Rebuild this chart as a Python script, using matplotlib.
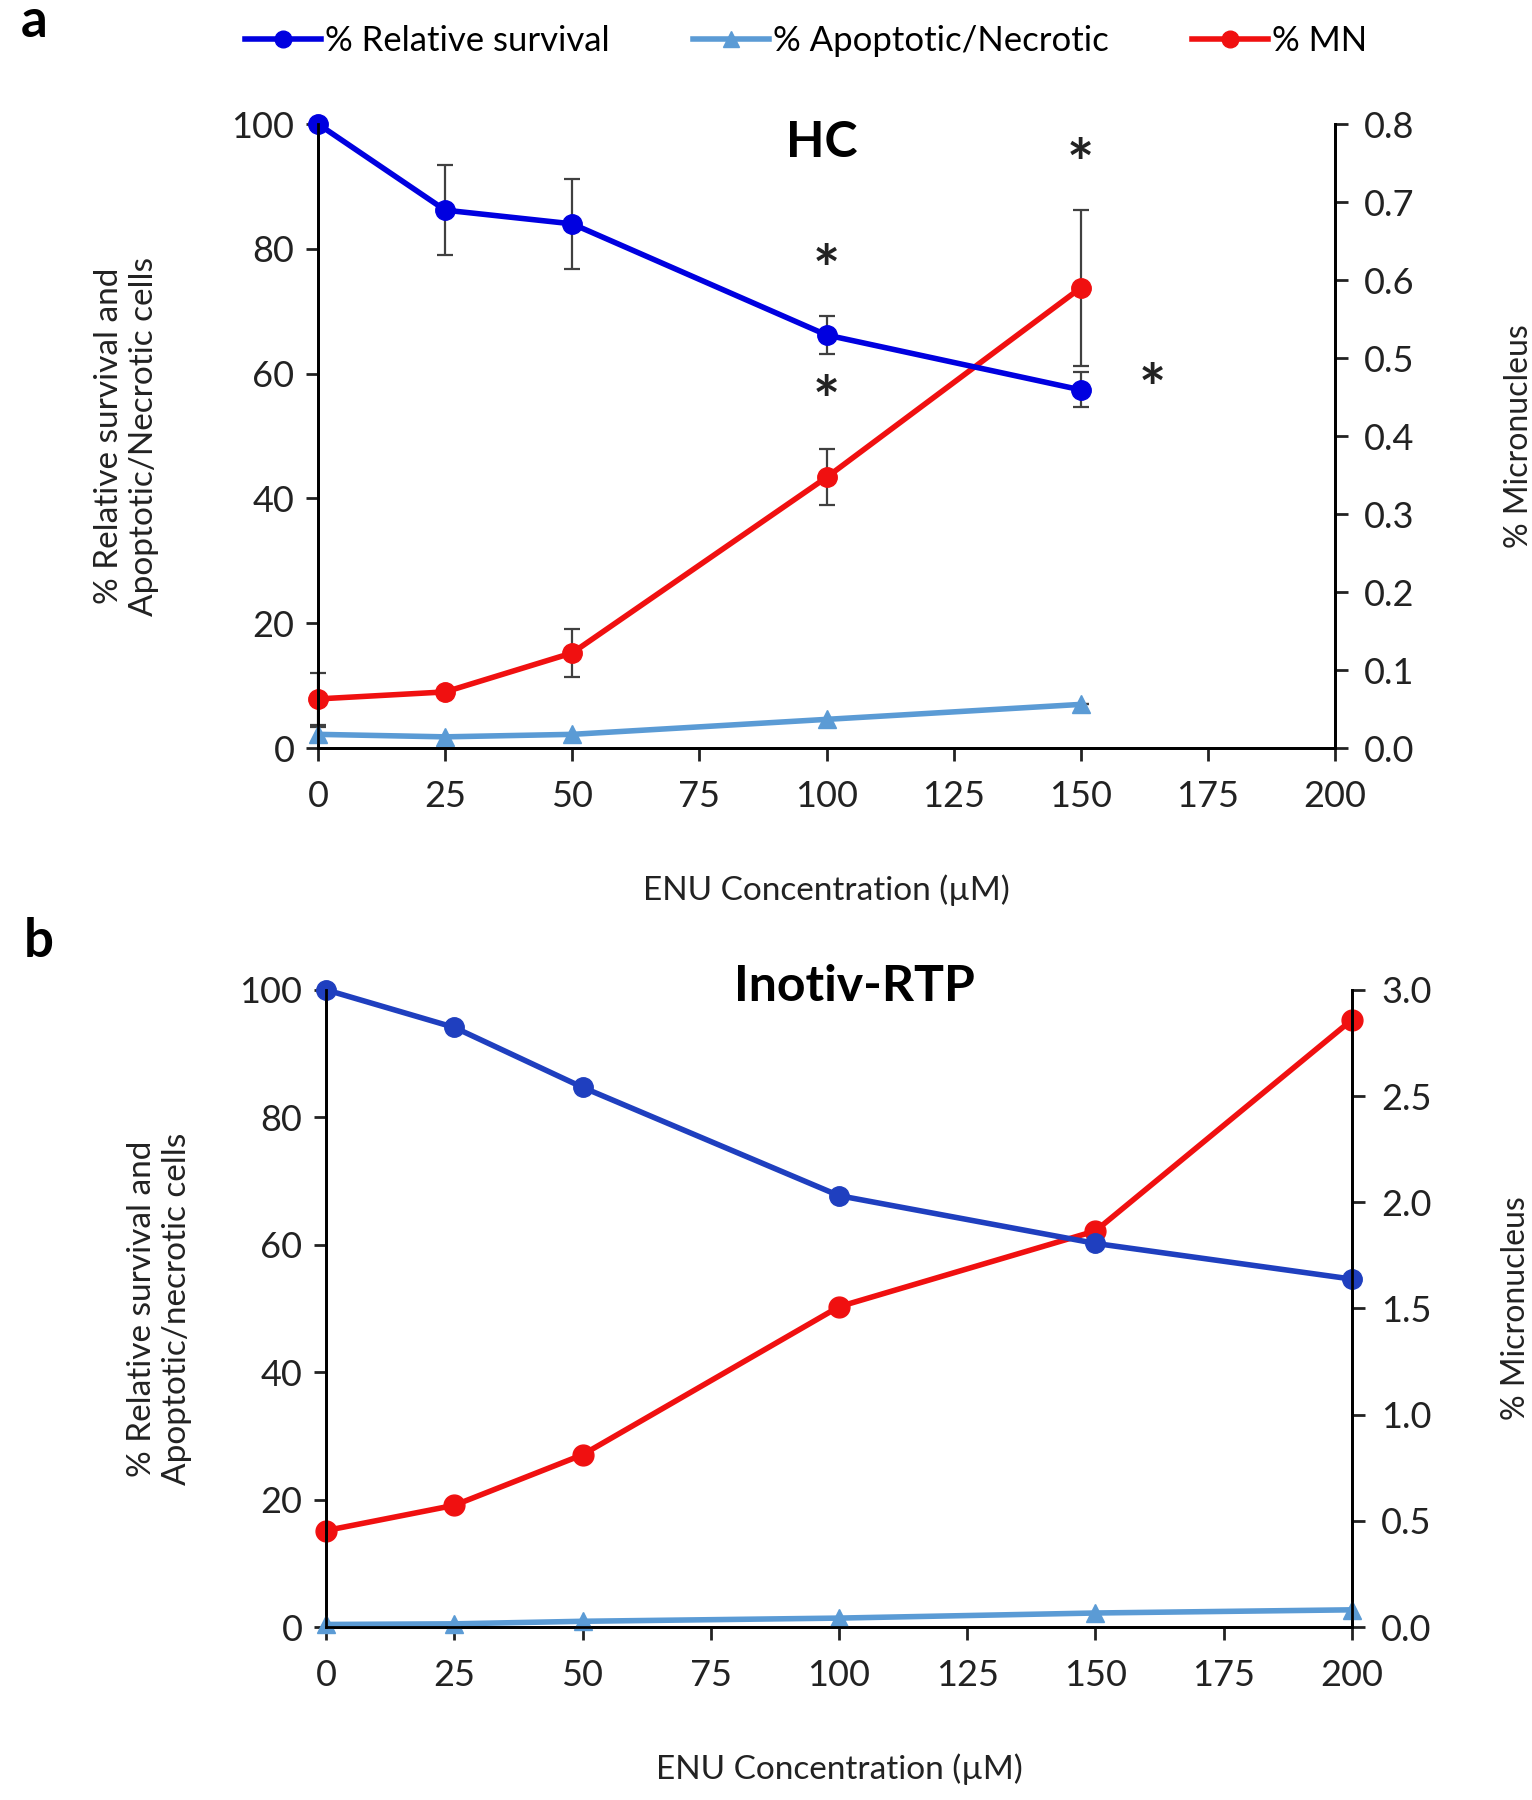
import numpy as np
import matplotlib.pyplot as plt

plt.rcParams['font.family'] = ['Lato', 'DejaVu Sans']

# panel a (HC)
conc_a = [0, 25, 50, 100, 150]
surv_a = [100, 86.2, 84.0, 66.2, 57.4]
surv_err_a = [0, 7.2, 7.2, 3.0, 2.8]
apop_a = [2.2, 1.8, 2.2, 4.6, 7.0]
apop_err_a = [1.2, 0, 0, 0, 0]
mn_a = [0.063, 0.072, 0.122, 0.347, 0.590]
mn_err_a = [0.033, 0, 0.031, 0.036, 0.10]

# panel b (Inotiv-RTP)
conc_b = [0, 25, 50, 100, 150, 200]
surv_b = [100, 94.1, 84.7, 67.7, 60.2, 54.6]
apop_b = [0.4, 0.5, 0.9, 1.4, 2.2, 2.7]
mn_b = [0.454, 0.573, 0.811, 1.508, 1.865, 2.859]

# asterisks (x, y on left axis)
stars_a = [(100, 76), (100, 55), (150, 93), (164, 57)]

blue_a = '#0000E0'
blue_b = '#1F3FBF'
light = '#5B9BD5'
red = '#F01010'
ecol = '#404040'
LW = 4

fig = plt.figure(figsize=(15.32, 18), dpi=100)


def style_axes(ax, ax2, ymax2, yticks2, fmt, rpad):
    ax.set_xlim(0, 200)
    ax.set_ylim(0, 100)
    ax.set_xticks(np.arange(0, 201, 25))
    ax.set_yticks(np.arange(0, 101, 20))
    ax2.set_ylim(0, ymax2)
    ax2.set_yticks(yticks2)
    ax2.set_yticklabels([fmt % v for v in yticks2])
    for a in (ax, ax2):
        a.spines['top'].set_visible(False)
        for s in a.spines.values():
            s.set_linewidth(2)
        a.tick_params(width=2, length=9, labelsize=26, colors='#222222')
    ax.tick_params(axis='x', pad=14)
    ax.tick_params(axis='y', pad=8)
    ax2.tick_params(axis='y', pad=12)
    ax.set_xlabel('ENU Concentration (µM)', fontsize=24, labelpad=44, color='#222222')
    ax2.set_ylabel('% Micronucleus', fontsize=23, labelpad=rpad, color='#222222')


# ---- panel a
ax = fig.add_axes([0.2076, 0.5844, 0.6638, 0.3467])
ax2 = ax.twinx()
ax.set_zorder(ax2.get_zorder() + 1)
ax.patch.set_visible(False)
style_axes(ax, ax2, 0.8, np.round(np.arange(0, 0.81, 0.1), 1), '%.1f', 64)

ax2.errorbar(conc_a, mn_a, yerr=mn_err_a, color=red, lw=LW, marker='o', ms=14,
             ecolor=ecol, elinewidth=1.6, capsize=6, capthick=1.6, clip_on=False)
ax.errorbar(conc_a, apop_a, yerr=apop_err_a, color=light, lw=LW, marker='^', ms=13,
            ecolor=ecol, elinewidth=1.6, capsize=6, capthick=1.6, clip_on=False)
ax.errorbar(conc_a, surv_a, yerr=surv_err_a, color=blue_a, lw=LW, marker='o', ms=14,
            ecolor=ecol, elinewidth=1.6, capsize=6, capthick=1.6, clip_on=False)
for sx, sy in stars_a:
    ax.text(sx, sy, '*', fontsize=46, fontweight='bold', ha='center', va='center', color='#222222')
ax.text(99, 97, 'HC', fontsize=36, fontweight='bold', ha='center', va='center')
ax.set_ylabel('% Relative survival and\nApoptotic/Necrotic cells', fontsize=24,
              labelpad=52, color='#222222', linespacing=1.2)

# ---- panel b
bx = fig.add_axes([0.2128, 0.0961, 0.6697, 0.354])
bx2 = bx.twinx()
bx.set_zorder(bx2.get_zorder() + 1)
bx.patch.set_visible(False)
style_axes(bx, bx2, 3.0, np.round(np.arange(0, 3.01, 0.5), 1), '%.1f', 50)

bx2.plot(conc_b, mn_b, color=red, lw=LW, marker='o', ms=15, clip_on=False)
bx.plot(conc_b, apop_b, color=light, lw=LW, marker='^', ms=13, clip_on=False)
bx.plot(conc_b, surv_b, color=blue_b, lw=LW, marker='o', ms=14, clip_on=False)
bx.text(103, 100.5, 'Inotiv-RTP', fontsize=36, fontweight='bold', ha='center', va='center')
bx.set_ylabel('% Relative survival and\nApoptotic/necrotic cells', fontsize=24,
              labelpad=34, color='#222222', linespacing=1.2)

# legend
h1, = plt.plot([], [], color=blue_a, lw=LW, marker='o', ms=12)
h2, = plt.plot([], [], color=light, lw=LW, marker='^', ms=12)
h3, = plt.plot([], [], color=red, lw=LW, marker='o', ms=12)
fig.legend([h1, h2, h3], ['% Relative survival', '% Apoptotic/Necrotic', '% MN'],
           loc='center', bbox_to_anchor=(0.526, 0.977), ncol=3, frameon=False,
           fontsize=25, handlelength=2.2, handletextpad=0.1, columnspacing=2.4)

fig.text(0.022, 0.988, 'a', fontsize=38, fontweight='bold', ha='center', va='center')
fig.text(0.025, 0.477, 'b', fontsize=38, fontweight='bold', ha='center', va='center')

plt.savefig('out.png', dpi=100)
